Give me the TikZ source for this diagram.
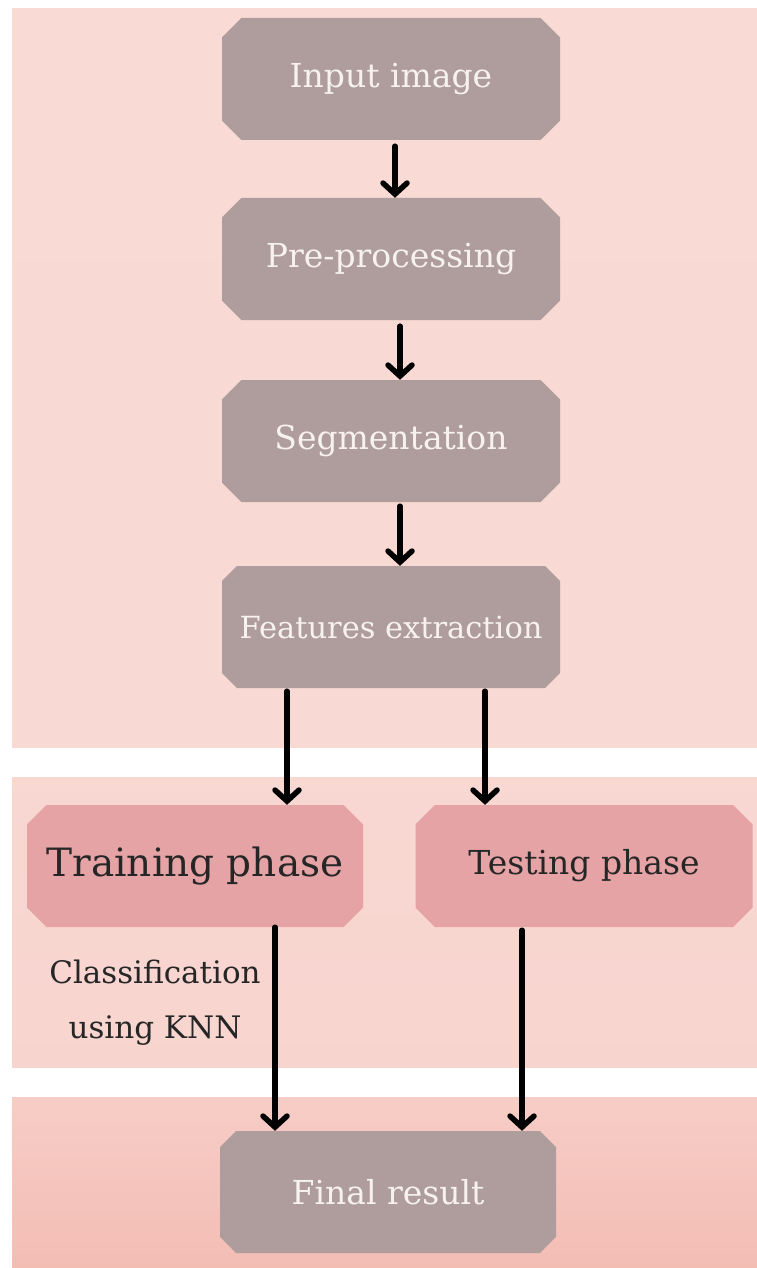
\documentclass[tikz,border=0pt]{standalone}
\usepackage{fontspec}
\setmainfont{DejaVu Serif}
\usetikzlibrary{shapes.misc,arrows.meta}
\definecolor{bandpink}{HTML}{F9DAD5}
\definecolor{banddeep}{HTML}{F3BDB4}
\definecolor{boxgray}{HTML}{AE9D9C}
\definecolor{boxpink}{HTML}{E6A3A5}
\definecolor{boxtext}{HTML}{F7F1F0}
\tikzset{
  stage/.style={chamfered rectangle, chamfered rectangle xsep=16pt,
    fill=boxgray, text=boxtext, inner sep=0pt,
    minimum width=338pt, minimum height=122pt,
    font=\fontsize{33}{40}\selectfont},
  phase/.style={stage, fill=boxpink, text=black!85},
  arr/.style={-{Straight Barb[length=11pt,width=24pt,line cap=round]},
    line width=5.5pt, line cap=round, black}
}
\begin{document}
\begin{tikzpicture}[x=1pt,y=-1pt]
  \useasboundingbox (0,0) rectangle (757,1268);
  % background bands
  \shade [top color=bandpink, bottom color=bandpink!95!banddeep] (12,9) rectangle (757,747);
  \shade [top color=bandpink!92!banddeep, bottom color=bandpink!80!banddeep] (12,777) rectangle (757,1067);
  \shade [top color=bandpink!55!banddeep, bottom color=banddeep] (12,1097) rectangle (757,1268);
  % stages
  \node [stage] (inp) at (391,79) {Input image};
  \node [stage] (pre) at (391,259) {Pre-processing};
  \node [stage] (seg) at (391,441) {Segmentation};
  \node [stage, font=\fontsize{30.5}{40}\selectfont] (feat) at (391,627) {Features extraction};
  \node [phase, minimum width=336pt, font=\fontsize{39}{46}\selectfont] (train) at (195,866) {Training phase};
  \node [phase, minimum width=337pt] (test) at (584,866) {Testing phase};
  \node [stage, minimum width=336pt] (final) at (388,1192) {Final result};
  \node [align=center, font=\fontsize{31}{55}\selectfont, text=black!85] (cls) at (155,1003) {Classification\\using KNN};
  % arrows
  \draw [arr, shorten <=6pt] ([xshift=4pt]inp.south) -- ([xshift=4pt]pre.north);
  \draw [arr, shorten <=6pt] ([xshift=9pt]pre.south) -- ([xshift=9pt]seg.north);
  \draw [arr, shorten <=4pt] ([xshift=9pt]seg.south) -- ([xshift=9pt]feat.north);
  \draw [arr, shorten <=3pt] ([xshift=-104pt]feat.south) -- ([xshift=-104pt]feat.south |- train.north);
  \draw [arr, shorten <=3pt] ([xshift=94pt]feat.south) -- ([xshift=94pt]feat.south |- test.north);
  \draw [arr] ([xshift=80pt]train.south) -- ([xshift=80pt]train.south |- final.north);
  \draw [arr, shorten <=3pt] ([xshift=-62pt]test.south) -- ([xshift=-62pt]test.south |- final.north);
\end{tikzpicture}
\end{document}
